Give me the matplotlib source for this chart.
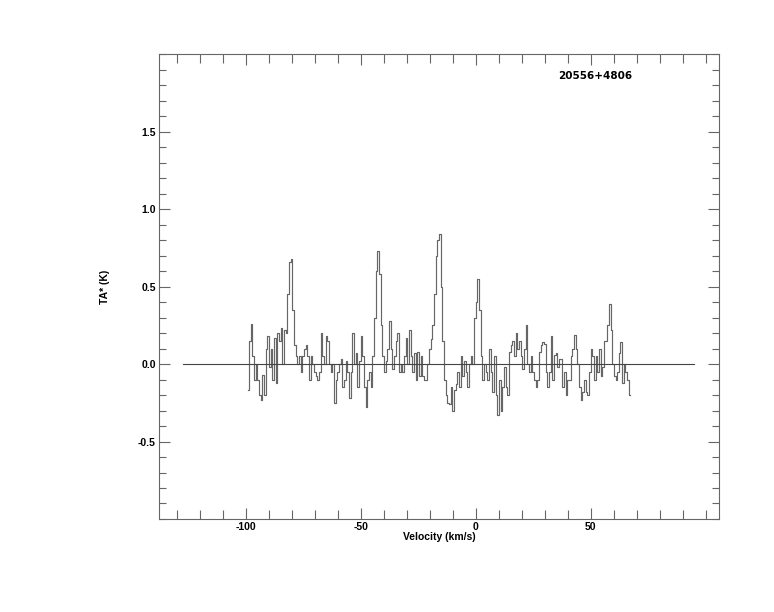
import numpy as np
import matplotlib
matplotlib.use("Agg")
import matplotlib.pyplot as plt
from matplotlib.ticker import MultipleLocator

plt.rcParams['font.family'] = ['Liberation Sans', 'DejaVu Sans']
plt.rcParams['axes.unicode_minus'] = False

source_name = "20556+4806"

# spectrum: first channel velocity and channel width (km/s)
v_start = -99.0
v_step = 0.7246

# antenna temperature TA* (K) per channel
ta = [
    -0.17, 0.15, 0.26, 0.05, -0.10, 0.00, -0.10, -0.20, -0.23, -0.07,
    -0.20, 0.10, 0.18, -0.02, 0.10, -0.10, 0.17, -0.12, 0.20, 0.15,
    0.23, 0.00, 0.22, 0.20, 0.45, 0.66, 0.68, 0.35, 0.12, 0.05,
    0.00, 0.05, -0.05, 0.05, 0.10, 0.12, 0.05, -0.10, 0.05, 0.00,
    -0.05, -0.08, -0.10, -0.05, 0.20, 0.05, 0.00, 0.18, 0.15, 0.00,
    -0.05, 0.00, -0.25, -0.10, -0.05, 0.00,
    0.03, -0.15, -0.10, 0.02, -0.05, -0.22, -0.05, 0.20, 0.00, 0.07,
    -0.15, 0.02, 0.18, 0.05, -0.15, -0.28, -0.10, -0.05, -0.15, 0.05,
    0.30, 0.60, 0.73, 0.58, 0.25, 0.05, -0.05, 0.02, 0.10, 0.28,
    0.10, -0.03, 0.05, 0.15, 0.20, -0.05, 0.00, -0.05, 0.05, 0.17,
    0.00, 0.22, 0.05, -0.05, 0.07, -0.10, 0.08, -0.08, 0.05, -0.08,
    -0.10, -0.10, 0.00, 0.10, 0.16, 0.25, 0.45, 0.70,
    0.80, 0.84, 0.50, 0.15, -0.10, -0.20, -0.25, -0.26, -0.15, -0.30,
    -0.17, -0.13, -0.05, -0.15, 0.05, -0.08, 0.02, -0.05, -0.15, 0.00,
    0.05, 0.00, 0.30, 0.40, 0.55, 0.35, 0.05, -0.10, 0.00, -0.05,
    -0.10, 0.10, -0.05, -0.18, 0.05, -0.20, -0.33, -0.10, -0.30, -0.15,
    -0.02, -0.15, -0.20, 0.08, 0.12, 0.15, 0.05, 0.20, 0.10, 0.15,
    0.05, -0.03, 0.10, 0.25, 0.00, -0.05, 0.05, -0.05, -0.10,
    -0.15, -0.10, 0.08, 0.12, 0.14, 0.13, -0.05, -0.15, -0.05, 0.18,
    -0.10, 0.06, 0.07, -0.02, 0.03, 0.03, -0.15, -0.05, -0.20, -0.10,
    -0.10, 0.05, 0.10, 0.19, 0.10, 0.00, -0.15, -0.23, -0.18, -0.10,
    -0.18, -0.20, -0.05, 0.10, 0.05, -0.10, 0.05, -0.05, 0.10, -0.08,
    -0.02, 0.15, 0.15, 0.25, 0.39, 0.22, 0.00, -0.08, -0.10, -0.05,
    0.07, 0.14, -0.12, 0.00, -0.05, -0.10, -0.20,
]

# baseline drawn at zero
base_v = [-127.5, 95.0]
base_t = [0.0, 0.0]

x_labels = [-100, -50, 0, 50]
y_labels = [-0.5, 0.0, 0.5, 1.0, 1.5]

vel = v_start + v_step * np.arange(len(ta))

fig = plt.figure(figsize=(7.74, 6.12), dpi=100)
ax = fig.add_axes([0.2058, 0.152, 0.7235, 0.7593])

gray = '#666666'
ax.step(vel, ta, where='mid', color=gray, lw=0.85)
ax.plot(base_v, base_t, color='#444444', lw=0.8)

ax.set_xlim(-137.6, 105.9)
ax.set_ylim(-1.0, 2.0)

ax.xaxis.set_minor_locator(MultipleLocator(10))
ax.yaxis.set_minor_locator(MultipleLocator(0.1))
ax.set_xticks(x_labels)
ax.set_xticklabels([str(t) for t in x_labels])
ax.set_yticks(y_labels)
ax.set_yticklabels(['%.1f' % t for t in y_labels])

ax.tick_params(which='both', direction='in', top=True, right=True,
               color=gray, width=0.8, labelsize=7.5, pad=2.5)
ax.tick_params(axis='x', which='major', length=8)
ax.tick_params(axis='x', which='minor', length=6.5)
ax.tick_params(axis='y', which='major', length=8)
ax.tick_params(axis='y', which='minor', length=5)
for lab in ax.get_xticklabels() + ax.get_yticklabels():
    lab.set_fontweight('bold')
for s in ax.spines.values():
    s.set_color(gray)
    s.set_linewidth(0.8)

ax.text(0.5, -0.039, "Velocity (km/s)", transform=ax.transAxes,
        ha='center', va='center', fontsize=7.5, fontweight='bold')
ax.text(-0.097, 0.5, "TA* (K)", transform=ax.transAxes, rotation=90,
        ha='center', va='center', fontsize=7.5, fontweight='bold')
ax.text(0.778, 0.953, source_name, transform=ax.transAxes,
        ha='center', va='center', fontsize=7.5, fontweight='bold',
        family='DejaVu Sans')

fig.savefig("out.png", dpi=100)
